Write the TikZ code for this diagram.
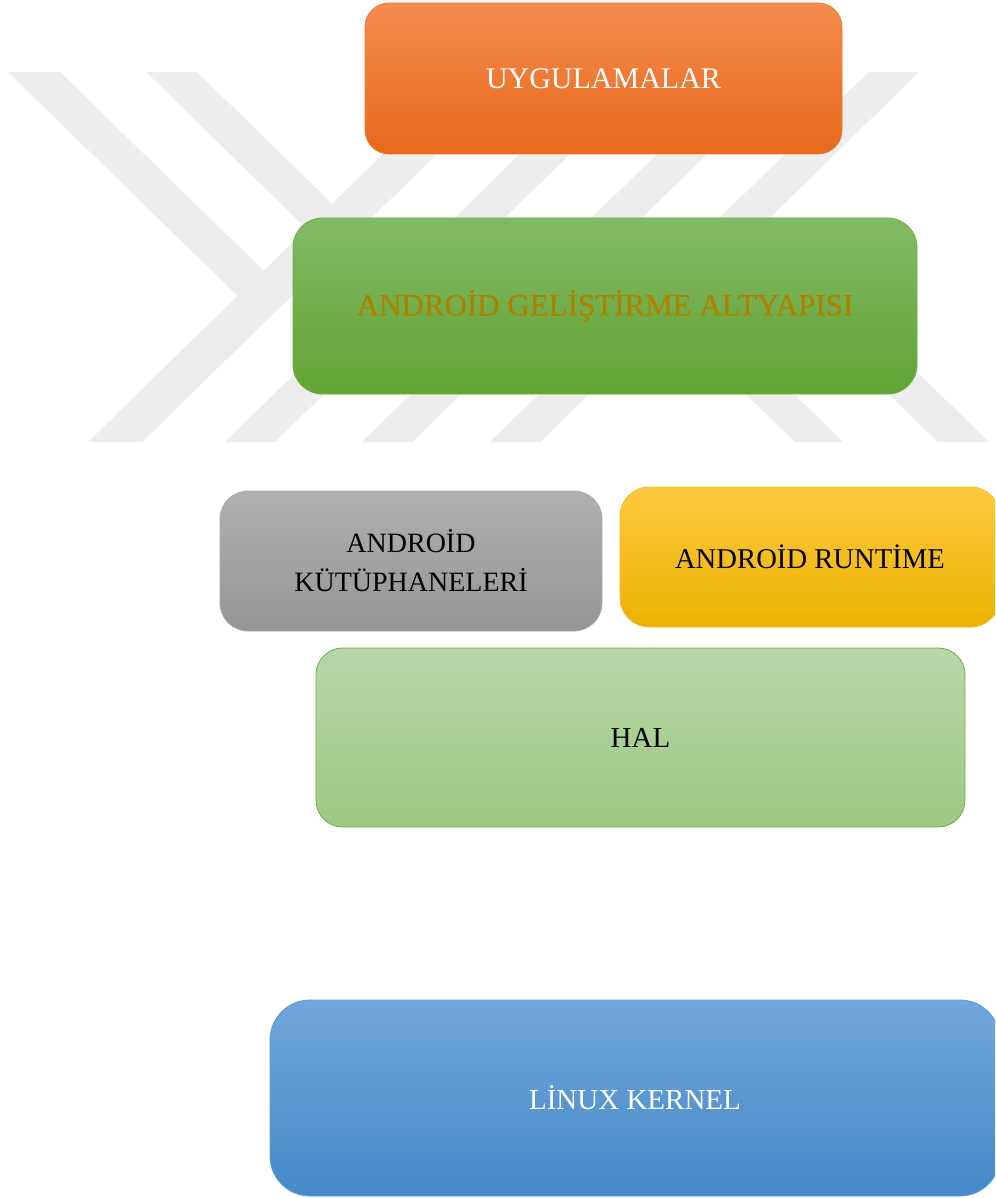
\documentclass[tikz,border=0pt]{standalone}
\usepackage{fontspec}
\setmainfont{Liberation Serif}
\newfontfamily\embfont[FakeBold=0.6]{Liberation Serif}
\definecolor{wm}{HTML}{EDEDED}
\definecolor{appTop}{HTML}{F48B4E}
\definecolor{appBot}{HTML}{E8691B}
\definecolor{appEdge}{HTML}{EE7A33}
\definecolor{fwTop}{HTML}{82BA64}
\definecolor{fwBot}{HTML}{62A434}
\definecolor{fwEdge}{HTML}{6EAC46}
\definecolor{gold}{HTML}{AE8200}
\definecolor{libTop}{HTML}{B0B0B0}
\definecolor{libBot}{HTML}{959595}
\definecolor{libEdge}{HTML}{ABABAB}
\definecolor{rtTop}{HTML}{FFC940}
\definecolor{rtBot}{HTML}{EAB300}
\definecolor{rtEdge}{HTML}{F7BE20}
\definecolor{halTop}{HTML}{B6D7A8}
\definecolor{halBot}{HTML}{9CC984}
\definecolor{halEdge}{HTML}{70AD47}
\definecolor{krTop}{HTML}{71A6DB}
\definecolor{krBot}{HTML}{4489C8}
\definecolor{krEdge}{HTML}{5B9BD5}
\tikzset{
  boxshape/.style={rectangle, rounded corners=#1, line width=0.6pt, align=center, inner sep=0pt},
  stripe/.style={fill=wm, draw=none},
}
\begin{document}
\begin{tikzpicture}[x=0.75pt, y=-0.75pt]
\useasboundingbox (0,0) rectangle (995,1198);
\clip (0,0) rectangle (995,1198);
\fill[white] (0,0) rectangle (995,1198);
% watermark
\fill[stripe] (88,442) -- (142,442) -- (521,72) -- (467,72) -- cycle;
\fill[stripe] (225,442) -- (275,442) -- (654,72) -- (604,72) -- cycle;
\fill[stripe] (362,442) -- (412,442) -- (791,72) -- (741,72) -- cycle;
\fill[stripe] (490,442) -- (540,442) -- (919,72) -- (869,72) -- cycle;
\fill[stripe] (8,72) -- (60,72) -- (270,277) -- (244,302) -- cycle;
\fill[stripe] (146,72) -- (197,72) -- (343.6,215) -- (318.2,240) -- cycle;
\fill[stripe] (598,250) -- (646,250) -- (843,442) -- (795,442) -- cycle;
\fill[stripe] (741,250) -- (792,250) -- (989,442) -- (938,442) -- cycle;
% layers
\node[boxshape=18pt, minimum width=357.75pt, minimum height=113.25pt,
  top color=appTop, bottom color=appBot, draw=appEdge, text=white,
  font=\fontsize{22.5}{27}\selectfont] (apps) at (603.5,78.5) {UYGULAMALAR};
\node[boxshape=22pt, minimum width=468pt, minimum height=132pt,
  top color=fwTop, bottom color=fwBot, draw=fwEdge, text=gold,
  font=\embfont\fontsize{23.25}{28}\selectfont] (framework) at (605,306) {ANDROİD GELİŞTİRME ALTYAPISI};
\node[boxshape=21pt, minimum width=286.5pt, minimum height=105pt,
  top color=libTop, bottom color=libBot, draw=libEdge, text=black,
  font=\fontsize{21}{29.25}\selectfont] (libs) at (411,561) {ANDROİD\\KÜTÜPHANELERİ};
\node[boxshape=22pt, minimum width=285pt, minimum height=105pt,
  top color=rtTop, bottom color=rtBot, draw=rtEdge, text=black,
  font=\fontsize{21.5}{26}\selectfont] (runtime) at (810,557) {ANDROİD RUNTİME};
\node[boxshape=20pt, minimum width=486.75pt, minimum height=134.25pt,
  top color=halTop, bottom color=halBot, draw=halEdge, text=black,
  font=\fontsize{21.75}{26}\selectfont] (hal) at (640.5,737.5) {HAL};
\node[boxshape=30pt, minimum width=547.5pt, minimum height=147pt,
  top color=krTop, bottom color=krBot, draw=krEdge, text=white,
  font=\fontsize{21.75}{26}\selectfont] (kernel) at (635,1098) {LİNUX KERNEL};
\end{tikzpicture}
\end{document}
